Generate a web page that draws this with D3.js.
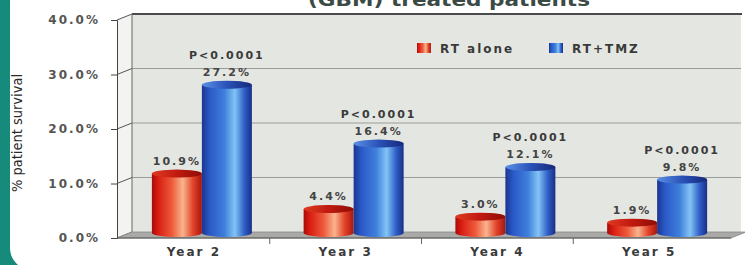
<!DOCTYPE html>
<html>
<head>
<meta charset="utf-8">
<script src="https://cdn.jsdelivr.net/npm/d3@7"></script>
<style>
  body { margin: 0; background: #fff; }
  svg { display: block; }
  text { font-family: "DejaVu Sans", Verdana, sans-serif; }
</style>
</head>
<body>
<div id="chart"></div>
<script>
// chart size
const width = 745;
const height = 265;

// data
const years = ["Year 2", "Year 3", "Year 4", "Year 5"];
const rtAlone = [10.9, 4.4, 3.0, 1.9];
const rtTmz = [27.2, 16.4, 12.1, 9.8];
const pLabels = ["P<0.0001", "P<0.0001", "P<0.0001", "P<0.0001"];
const seriesNames = ["RT alone", "RT+TMZ"];
const yTicks = [0, 10, 20, 30, 40];

// 3d depth offset of the back wall
const depth = {dx: 15, dy: -6};
const barShift = {dx: 8, dy: -5};
const barW = 50;

const svg = d3.select("#chart")
  .append("svg")
  .attr("width", width)
  .attr("height", height);

const defs = svg.append("defs");

function hGrad(id, stops) {
  const g = defs.append("linearGradient").attr("id", id)
    .attr("x1", "0%").attr("x2", "100%").attr("y1", "0%").attr("y2", "0%");
  stops.forEach(s => g.append("stop").attr("offset", s[0]).attr("stop-color", s[1]));
}
hGrad("redBody", [[0, "#a80c06"], [0.12, "#d81c12"], [0.4, "#ee5a3a"], [0.62, "#f9b48e"], [0.82, "#e2442a"], [1, "#a8160c"]]);
hGrad("blueBody", [[0, "#1a3590"], [0.15, "#2a58c6"], [0.45, "#3f7fdc"], [0.66, "#82c4f4"], [0.85, "#2f5ec8"], [1, "#182f86"]]);
hGrad("redTop", [[0, "#e03a22"], [0.5, "#c01a10"], [1, "#8e0c06"]]);
hGrad("blueTop", [[0, "#5a90e6"], [0.5, "#2a52b8"], [1, "#16287a"]]);

// teal frame with rounded white inner corner
svg.append("rect").attr("x", 0).attr("y", 0).attr("width", 40).attr("height", height).attr("fill", "#168a7b");
svg.append("rect").attr("x", 10).attr("y", -20).attr("width", width + 20).attr("height", 290)
  .attr("rx", 22).attr("fill", "#fff");

// scales
const y = d3.scaleLinear().domain([0, 40]).range([238, 20]);
const x = d3.scaleBand().domain(years).range([118, 725]);
const axisX = 117;
const right = 731;

// side wall
svg.append("polygon")
  .attr("points", [[axisX, y(40)], [axisX + depth.dx, y(40) + depth.dy], [axisX + depth.dx, y(0) + depth.dy], [axisX, y(0)]].join(" "))
  .attr("fill", "#f3f4f1");

// back wall
svg.append("rect")
  .attr("x", axisX + depth.dx).attr("y", y(40) + depth.dy)
  .attr("width", right + depth.dx - 5 - (axisX + depth.dx))
  .attr("height", y(0) - y(40))
  .attr("fill", "#e4e6e2");

// gridlines on back wall + slanted ticks on side wall
yTicks.filter(d => d > 0 && d < 40).forEach(d => {
  svg.append("line")
    .attr("x1", axisX + depth.dx).attr("x2", right + depth.dx - 5)
    .attr("y1", y(d) + depth.dy).attr("y2", y(d) + depth.dy)
    .attr("stroke", "#9a9c99").attr("stroke-width", 1);
});
yTicks.forEach(d => {
  svg.append("line")
    .attr("x1", axisX).attr("y1", y(d))
    .attr("x2", axisX + depth.dx).attr("y2", y(d) + depth.dy)
    .attr("stroke", "#555").attr("stroke-width", 1);
});
// top border
svg.append("line")
  .attr("x1", axisX + depth.dx).attr("x2", right + depth.dx - 4)
  .attr("y1", y(40) + depth.dy).attr("y2", y(40) + depth.dy)
  .attr("stroke", "#4a4a4a").attr("stroke-width", 2);
// back wall left edge
svg.append("line")
  .attr("x1", axisX + depth.dx).attr("x2", axisX + depth.dx)
  .attr("y1", y(40) + depth.dy).attr("y2", y(0) + depth.dy)
  .attr("stroke", "#666");

// floor
svg.append("polygon")
  .attr("points", [[axisX, y(0)], [axisX + depth.dx, y(0) + depth.dy], [right + depth.dx, y(0) + depth.dy], [right, y(0)]].join(" "))
  .attr("fill", "#a9aaa7").attr("stroke", "#8a8a88").attr("stroke-width", 0.8);
svg.append("line")
  .attr("x1", axisX).attr("x2", right).attr("y1", y(0)).attr("y2", y(0))
  .attr("stroke", "#555").attr("stroke-width", 1.2);

// y axis
const yAxis = svg.append("g")
  .attr("transform", `translate(${axisX},0)`)
  .call(d3.axisLeft(y).tickValues(yTicks).tickFormat(d => d.toFixed(1) + "%").tickSize(6).tickPadding(11));
yAxis.select(".domain").attr("stroke", "#444");
yAxis.selectAll(".tick line").attr("stroke", "#444");
yAxis.selectAll("text")
  .attr("font-size", "12px").attr("font-weight", "bold")
  .attr("letter-spacing", "2px").attr("fill", "#555")
  .attr("font-family", "DejaVu Sans, Verdana, sans-serif");

// x axis labels + category ticks on the floor front edge
const xAxis = svg.append("g")
  .attr("transform", `translate(0,${y(0)})`)
  .call(d3.axisBottom(x).tickSize(0).tickPadding(9));
xAxis.select(".domain").remove();
xAxis.selectAll("text")
  .attr("font-size", "12px").attr("font-weight", "bold")
  .attr("letter-spacing", "2px").attr("fill", "#3a3a3a")
  .attr("font-family", "DejaVu Sans, Verdana, sans-serif");
years.slice(1).forEach(d => {
  svg.append("line")
    .attr("x1", x(d)).attr("x2", x(d))
    .attr("y1", y(0)).attr("y2", y(0) + 6)
    .attr("stroke", "#666");
});

// y axis title
svg.append("text")
  .attr("transform", `translate(22,133) rotate(-90)`)
  .attr("text-anchor", "middle")
  .attr("font-family", "Liberation Sans, Arial, sans-serif")
  .attr("font-size", "14px")
  .attr("textLength", 118).attr("lengthAdjust", "spacingAndGlyphs")
  .attr("fill", "#2a2a2a")
  .text("% patient survival");

// title (cut at the top, as in the source picture)
svg.append("text")
  .attr("x", 449).attr("y", 6)
  .attr("text-anchor", "middle")
  .attr("font-family", "DejaVu Sans, sans-serif")
  .attr("font-size", "18px").attr("font-weight", "bold")
  .attr("textLength", 282).attr("lengthAdjust", "spacingAndGlyphs")
  .attr("fill", "#3c4a46")
  .text("(GBM) treated patients");

// bars as cylinders
const series = [
  {name: seriesNames[0], values: rtAlone, body: "url(#redBody)", top: "url(#redTop)", off: -barW},
  {name: seriesNames[1], values: rtTmz, body: "url(#blueBody)", top: "url(#blueTop)", off: 0}
];
const rx = barW / 2, ry = 4;

series.forEach(s => {
  const g = svg.append("g");
  const bars = g.selectAll("g.bar")
    .data(years.map((yr, i) => ({year: yr, v: s.values[i], i: i})))
    .enter().append("g").attr("class", "bar");

  bars.append("path")
    .attr("d", d => {
      const x0 = x(d.year) + x.bandwidth() / 2 + barShift.dx + s.off;
      const yT = y(d.v) + barShift.dy;
      const yB = y(0) + barShift.dy;
      return `M${x0},${yT} L${x0},${yB} A${rx},${ry} 0 0 0 ${x0 + barW},${yB} L${x0 + barW},${yT} Z`;
    })
    .attr("fill", s.body);

  bars.append("ellipse")
    .attr("cx", d => x(d.year) + x.bandwidth() / 2 + barShift.dx + s.off + rx)
    .attr("cy", d => y(d.v) + barShift.dy)
    .attr("rx", rx).attr("ry", ry)
    .attr("fill", s.top);

  bars.append("text")
    .attr("x", d => x(d.year) + x.bandwidth() / 2 + barShift.dx + s.off + rx)
    .attr("y", d => y(d.v) + barShift.dy - 9)
    .attr("text-anchor", "middle")
    .attr("font-size", "11px").attr("font-weight", "bold")
    .attr("letter-spacing", "2px").attr("fill", "#444")
    .text(d => d.v.toFixed(1) + "%");
});

// p-value labels above the RT+TMZ bars
svg.selectAll(".plabel")
  .data(years.map((yr, i) => ({year: yr, v: rtTmz[i], p: pLabels[i]})))
  .enter().append("text")
  .attr("class", "plabel")
  .attr("x", d => x(d.year) + x.bandwidth() / 2 + barShift.dx + rx)
  .attr("y", d => y(d.v) + barShift.dy - 26)
  .attr("text-anchor", "middle")
  .attr("font-size", "11px").attr("font-weight", "bold")
  .attr("letter-spacing", "2px").attr("fill", "#3a3a3a")
  .text(d => d.p);

// legend
const legend = svg.append("g");
const legendX = [417, 549];
seriesNames.forEach((n, i) => {
  legend.append("rect")
    .attr("x", legendX[i]).attr("y", 43).attr("width", 14).attr("height", 10)
    .attr("fill", i === 0 ? "url(#redBody)" : "url(#blueBody)");
  legend.append("text")
    .attr("x", legendX[i] + 23).attr("y", 52.5)
    .attr("font-size", "12px").attr("font-weight", "bold")
    .attr("letter-spacing", "2px").attr("fill", "#3a3a3a")
    .text(n);
});
</script>
</body>
</html>
